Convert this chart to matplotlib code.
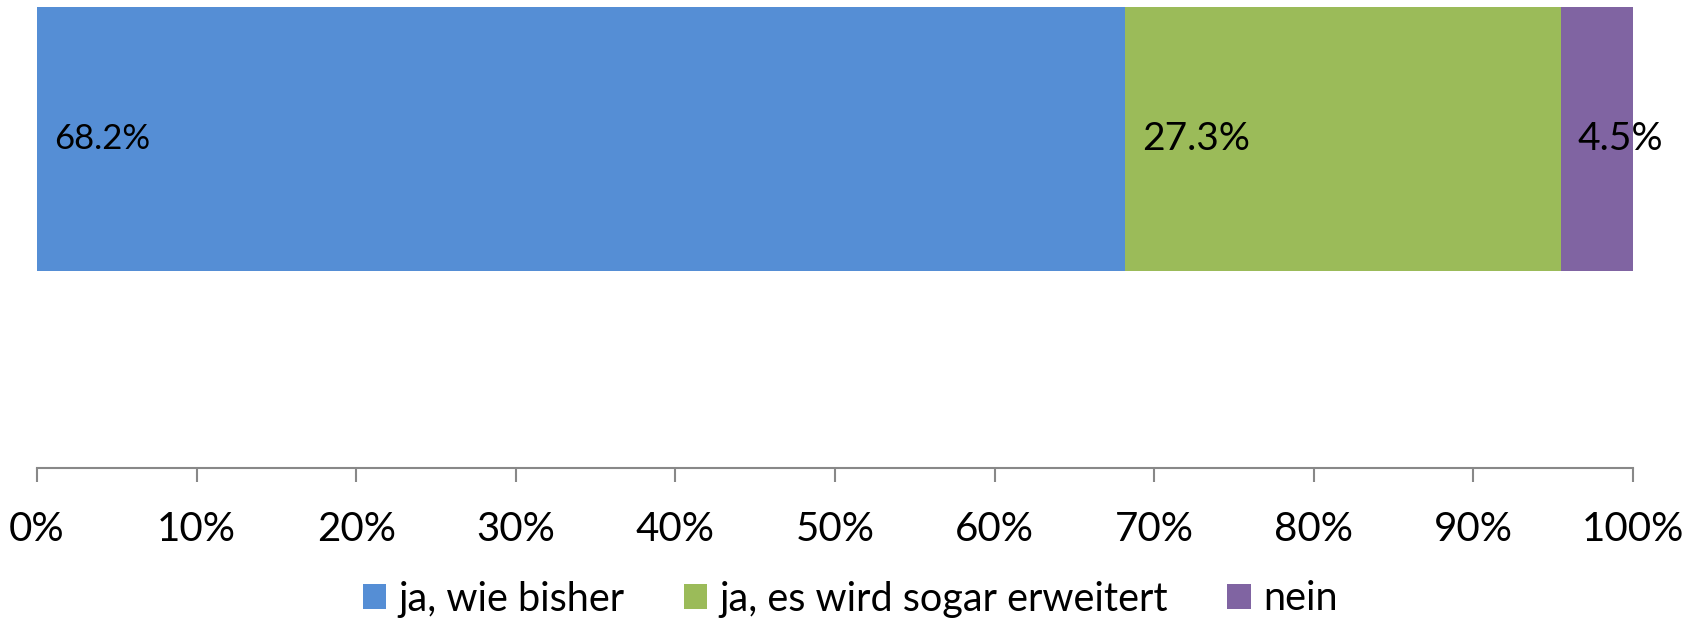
import numpy as np
from matplotlib import pyplot as plt
from matplotlib.patches import Patch

plt.rcParams["font.family"] = ["Lato", "DejaVu Sans"]

categories = ["ja, wie bisher", "ja, es wird sogar erweitert", "nein"]
shares     = [68.2, 27.3, 4.5]
label_size = [25, 28, 28]
colours    = ["#558ED5", "#9BBB59", "#8064A2"]
ticks      = np.arange(0, 101, 10)
tick_labels = [f"{t}%" for t in ticks]

W, H = 1700, 619
fig = plt.figure(figsize=(W / 100, H / 100), dpi=100)
# axes box in pixel coordinates: x 37..1633, y 7..468 (from top)
ax = fig.add_axes([37 / W, 1 - 468 / H, (1633 - 37) / W, (468 - 7) / H])

bar_top, bar_bottom = 1.0, 1 - (271 - 7) / (468 - 7)
y0 = (bar_top + bar_bottom) / 2
height = bar_top - bar_bottom

left = 0
for cat, share, c, fs in zip(categories, shares, colours, label_size):
    ax.barh(y0, share, height=height, left=left, color=c, label=cat)
    ax.annotate(f"{share:.1f}%", xy=(left, y0), xytext=(12, 0),
                textcoords="offset points", ha="left", va="center",
                fontsize=fs, color="black")
    left += share

ax.set_xlim(0, 100)
ax.set_ylim(0, 1)
ax.set_xticks(ticks)
ax.set_xticklabels(tick_labels, fontsize=29)
ax.set_yticks([])
for side in ["top", "right", "left"]:
    ax.spines[side].set_visible(False)
ax.spines["bottom"].set_color("#888888")
ax.spines["bottom"].set_linewidth(1.5)
ax.tick_params(axis="x", length=10, width=1.5, color="#888888", pad=21)

handles = [Patch(facecolor=c, edgecolor="none") for c in colours]
fig.legend(handles, categories, loc="center", bbox_to_anchor=(0.5, 1 - 599 / H),
           ncol=3, frameon=False, fontsize=28.5, handlelength=0.6, handleheight=0.6,
           handletextpad=0.3, columnspacing=1.5, borderpad=0, borderaxespad=0)

plt.savefig("out.png", dpi=100)
plt.close()
